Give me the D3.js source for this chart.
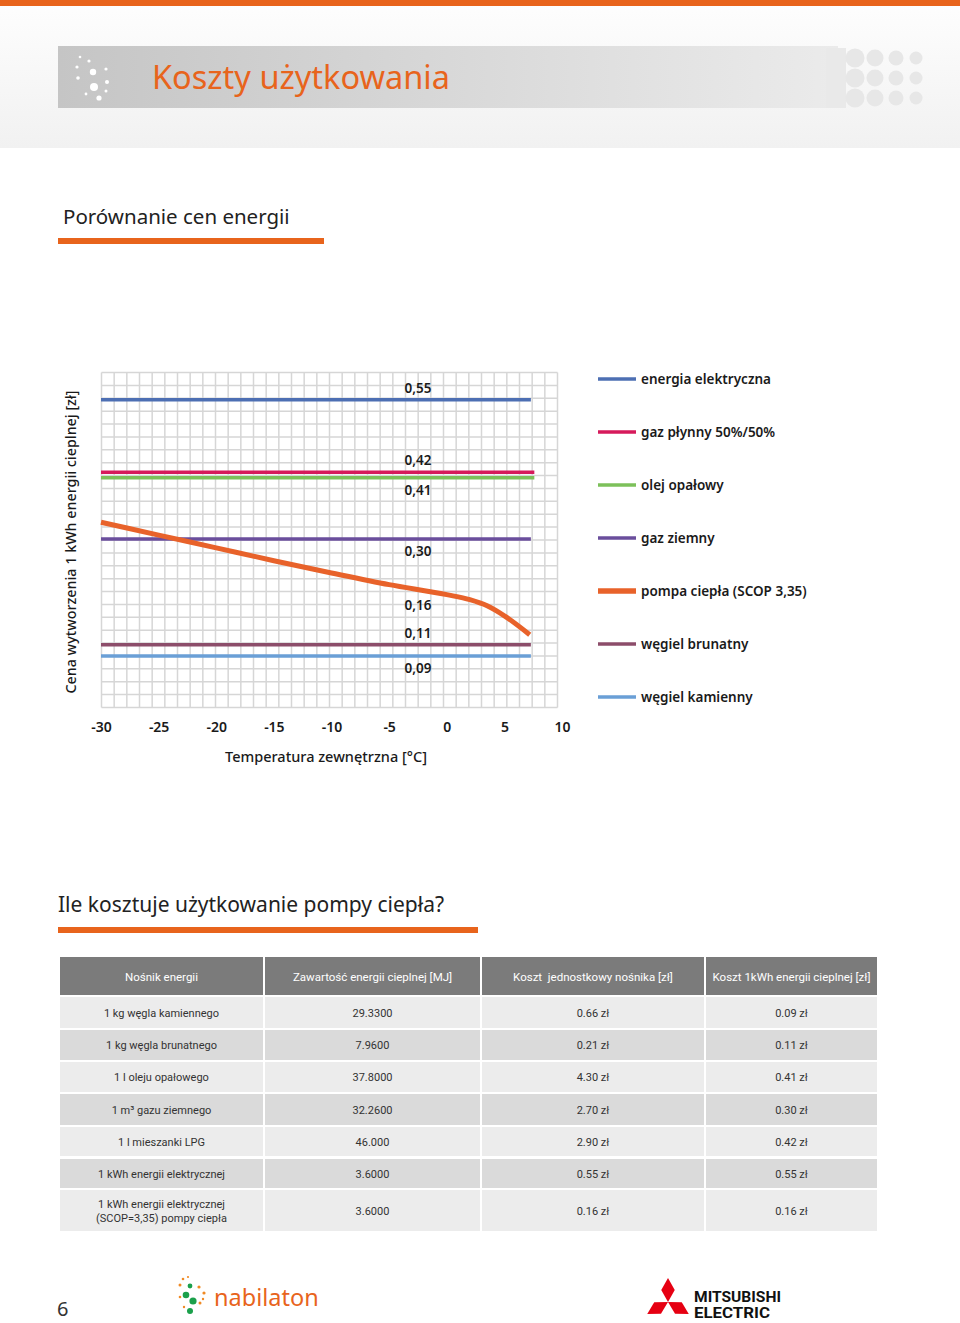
<!DOCTYPE html>
<html><head><meta charset="utf-8">
<script src="https://cdn.jsdelivr.net/npm/d3@7"></script>
<style>
body{margin:0;background:#fff;}
svg{display:block;}
</style></head><body>
<svg id="page" width="960" height="1323"></svg>
<script>
// ---------- DATA ----------
const seriesNames = ["energia elektryczna","gaz płynny 50%/50%","olej opałowy","gaz ziemny","pompa ciepła (SCOP 3,35)","węgiel brunatny","węgiel kamienny"];
const seriesColors = ["#4d6fb3","#d61a5b","#7cc05a","#6a4e9c","#e8622a","#8c4d6a","#6a9fd6"];
const flatValues = [0.55,0.42,0.41,0.30,null,0.11,0.09];
const flatEnd = [7.3,7.6,7.6,7.3,null,7.3,7.3];
const heatPumpTemps = [-30,-25,-20,-15,-10,-5,0,2,3.5,5,7.2];
const heatPumpValues = [0.330,0.307,0.284,0.261,0.239,0.218,0.200,0.191,0.180,0.162,0.128];
const xTicks = [-30,-25,-20,-15,-10,-5,0,5,10];
const valueLabels = ["0,55","0,42","0,41","0,30","0,16","0,11","0,09"];
const valueLabelAt = [0.55,0.42,0.41,0.30,0.16,0.11,0.09];
const valueLabelSide = [-1,-1,1,1,-1,-1,1];

const tableHeader = ["Nośnik energii","Zawartość energii cieplnej [MJ]","Koszt  jednostkowy nośnika [zł]","Koszt 1kWh energii cieplnej [zł]"];
const carriers = ["1 kg węgla kamiennego","1 kg węgla brunatnego","1 l oleju opałowego","1 m³ gazu ziemnego","1 l mieszanki LPG","1 kWh energii elektrycznej","1 kWh energii elektrycznej|(SCOP=3,35) pompy ciepła"];
const energyMJ = ["29.3300","7.9600","37.8000","32.2600","46.000","3.6000","3.6000"];
const unitCost = ["0.66 zł","0.21 zł","4.30 zł","2.70 zł","2.90 zł","0.55 zł","0.16 zł"];
const kwhCost = ["0.09 zł","0.11 zł","0.41 zł","0.30 zł","0.42 zł","0.55 zł","0.16 zł"];

// ---------- PAGE ----------
const svg = d3.select("#page");
const defs = svg.append("defs");
const FONT = "'Noto Sans', 'Open Sans', sans-serif";
const NARROW = "'Liberation Sans Narrow', 'Roboto', sans-serif";

const hg = defs.append("linearGradient").attr("id","hdrbg").attr("x1",0).attr("y1",0).attr("x2",0).attr("y2",1);
hg.append("stop").attr("offset","0%").attr("stop-color","#fefefe");
hg.append("stop").attr("offset","100%").attr("stop-color","#f1f1f1");
const bg = defs.append("linearGradient").attr("id","banner").attr("x1",0).attr("y1",0).attr("x2",1).attr("y2",0);
bg.append("stop").attr("offset","0%").attr("stop-color","#c5c5c5");
bg.append("stop").attr("offset","100%").attr("stop-color","#ebebeb");

svg.append("rect").attr("x",0).attr("y",0).attr("width",960).attr("height",148).attr("fill","url(#hdrbg)");
svg.append("rect").attr("x",0).attr("y",0).attr("width",960).attr("height",6).attr("fill","#e8641c");
svg.append("rect").attr("x",58).attr("y",46).attr("width",780).attr("height",62).attr("fill","url(#banner)");

// right circles decoration
const circCols = [855,875,896,916];
const circR = [9.5,8.5,7.5,6.5];
const circRows = [58,78,98];
svg.append("rect").attr("x",826).attr("y",48).attr("width",20).attr("height",60).attr("fill","#e9e9e9");
circRows.forEach(cy=>circCols.forEach((cx,i)=>{
  svg.append("circle").attr("cx",cx).attr("cy",cy).attr("r",circR[i]).attr("fill","#e7e7e7");
}));
// left dots decoration
const leftDots = [[80,57,1.3],[89,61,1.6],[77,67,1.6],[93,72,3.2],[106,69,1.6],[78,78,1.8],[94,87,4],[107,82,2],[99,98,2.6],[106,91,1.5],[86,94,1.4]];
leftDots.forEach(d=>svg.append("circle").attr("cx",d[0]).attr("cy",d[1]).attr("r",d[2]).attr("fill","#fff"));

svg.append("text").attr("x",152).attr("y",89).attr("font-family",FONT).attr("font-size",32.5)
  .attr("fill","#e8641c").text("Koszty użytkowania");

// section title 1
svg.append("text").attr("x",63).attr("y",224).attr("font-family",FONT).attr("font-size",20.5)
  .attr("fill","#222").text("Porównanie cen energii");
svg.append("rect").attr("x",58).attr("y",238).attr("width",266).attr("height",6).attr("fill","#e8641c");

// ---------- CHART ----------
const x = d3.scaleLinear().domain([-30,10]).range([101,562]);
const y = d3.scaleLinear().domain([0,0.6]).range([706,372]);

// grid
const gx = d3.scaleLinear().domain([0,36]).range([101.5,557.5]);
const gy = d3.scaleLinear().domain([0,26]).range([372.5,707.5]);
const grid = svg.append("g").attr("stroke","#d6d6d6").attr("stroke-width",1.5);
grid.selectAll("line.v").data(d3.range(37)).join("line").attr("class","v")
  .attr("x1",d=>gx(d)).attr("x2",d=>gx(d)).attr("y1",gy(0)).attr("y2",gy(26));
grid.selectAll("line.h").data(d3.range(27)).join("line").attr("class","h")
  .attr("y1",d=>gy(d)).attr("y2",d=>gy(d)).attr("x1",gx(0)).attr("x2",gx(36));

// flat series
const flat = seriesNames.map((n,i)=>({v:flatValues[i],end:flatEnd[i],c:seriesColors[i]})).filter(d=>d.v!==null);
svg.append("g").selectAll("line").data(flat).join("line")
  .attr("x1",x(-30)).attr("x2",d=>x(d.end))
  .attr("y1",d=>y(d.v)).attr("y2",d=>y(d.v))
  .attr("stroke",d=>d.c).attr("stroke-width",3.5);

// heat pump curve
const hp = heatPumpTemps.map((t,i)=>[t,heatPumpValues[i]]);
svg.append("path").datum(hp)
  .attr("d",d3.line().x(d=>x(d[0])).y(d=>y(d[1])).curve(d3.curveMonotoneX))
  .attr("fill","none").attr("stroke",seriesColors[4]).attr("stroke-width",5).attr("stroke-linecap","butt");

// value labels
svg.append("g").selectAll("text").data(valueLabels).join("text")
  .attr("x",418).attr("y",(d,i)=>y(valueLabelAt[i]) + valueLabelSide[i]*12 + 5)
  .attr("text-anchor","middle").attr("font-family",FONT).attr("font-size",13.5).attr("font-weight",600)
  .attr("fill","#1a1a1a").text(d=>d);

// x axis
const xAxis = d3.axisBottom(x).tickValues(xTicks).tickSize(0).tickPadding(0).tickFormat(d=>String(d));
const ax = svg.append("g").attr("transform","translate(0,722)").call(xAxis);
ax.select(".domain").remove();
ax.selectAll("text").attr("font-family",FONT).attr("font-size",14).attr("font-weight",600).attr("fill","#1a1a1a");

svg.append("text").attr("x",326).attr("y",762).attr("text-anchor","middle").attr("font-family",FONT)
  .attr("font-size",14.5).attr("font-weight",500).attr("fill","#1a1a1a").text("Temperatura zewnętrzna [°C]");
svg.append("text").attr("transform","translate(76,542) rotate(-90)").attr("text-anchor","middle")
  .attr("font-family",FONT).attr("font-size",14.3).attr("font-weight",500).attr("fill","#1a1a1a")
  .text("Cena wytworzenia 1 kWh energii cieplnej [zł]");

// legend
const legY = d3.scalePoint().domain(seriesNames).range([379,697]);
const leg = svg.append("g").selectAll("g").data(seriesNames).join("g")
  .attr("transform",d=>`translate(598,${legY(d)})`);
leg.append("line").attr("x1",0).attr("x2",38).attr("y1",0).attr("y2",0)
  .attr("stroke",(d,i)=>seriesColors[i]).attr("stroke-width",(d,i)=>i===4?5.5:3.5);
leg.append("text").attr("x",43).attr("y",5).attr("font-family",FONT).attr("font-size",13.5)
  .attr("font-weight",600).attr("fill","#1a1a1a").text(d=>d);

// ---------- TABLE ----------
svg.append("text").attr("x",58).attr("y",912).attr("font-family",FONT).attr("font-size",21)
  .attr("fill","#222").text("Ile kosztuje użytkowanie pompy ciepła?");
svg.append("rect").attr("x",58).attr("y",927).attr("width",420).attr("height",6).attr("fill","#e8641c");

const colX = [60,265,482,706];
const colW = [203,215,222,171];
const rowTop = [997,1030,1062,1094,1127,1159,1190];
const rowH = [31,30,30,31,29,29,41];

tableHeader.forEach((h,j)=>{
  svg.append("rect").attr("x",colX[j]).attr("y",957).attr("width",colW[j]).attr("height",38).attr("fill","#7b7b7b");
  svg.append("text").attr("x",colX[j]+colW[j]/2).attr("y",981).attr("text-anchor","middle")
    .attr("font-family",NARROW).attr("font-size",11.5).attr("fill","#fff").attr("xml:space","preserve").text(h);
});
const tableCols = [carriers,energyMJ,unitCost,kwhCost];
carriers.forEach((c,i)=>{
  tableCols.forEach((col,j)=>{
    svg.append("rect").attr("x",colX[j]).attr("y",rowTop[i]).attr("width",colW[j]).attr("height",rowH[i])
      .attr("fill", i%2===0 ? "#ececec" : "#dadada");
    const lines = col[i].split("|");
    const cy = rowTop[i]+rowH[i]/2;
    lines.forEach((ln,k)=>{
      svg.append("text").attr("x",colX[j]+colW[j]/2).attr("y",cy+4+(k-(lines.length-1)/2)*14)
        .attr("text-anchor","middle").attr("font-family",NARROW).attr("font-size",11).attr("fill","#333").text(ln);
    });
  });
});

// ---------- FOOTER ----------
svg.append("text").attr("x",57).attr("y",1316).attr("font-family",FONT).attr("font-size",20).attr("fill","#333").text("6");
// nabilaton logo
const orangeDots = [[183,1279,1.3],[188,1277,1.1],[180,1285,1.5],[199,1287,1.6],[204,1293,1.6],[200,1303,1.5],[180,1297,1.3],[184,1307,1.2],[203,1299,1.2]];
const greenDots = [[190,1286,2.4],[186,1295,3.3],[193,1301,3.6],[190,1311,3]];
orangeDots.forEach(d=>svg.append("circle").attr("cx",d[0]).attr("cy",d[1]).attr("r",d[2]).attr("fill","#f08a24"));
greenDots.forEach(d=>svg.append("circle").attr("cx",d[0]).attr("cy",d[1]).attr("r",d[2]).attr("fill","#1ba04b"));
svg.append("text").attr("x",214).attr("y",1306).attr("font-family",FONT).attr("font-size",23.5)
  .attr("fill","#e8641c").text("nabilaton");
// mitsubishi logo
const C = [668,1302], L = 24, W = 13.5;
[90,210,330].forEach(a=>{
  const r = a*Math.PI/180, d=[Math.cos(r),-Math.sin(r)], n=[-d[1],d[0]];
  const pts = [C,[C[0]+d[0]*L/2+n[0]*W/2, C[1]+d[1]*L/2+n[1]*W/2],[C[0]+d[0]*L,C[1]+d[1]*L],[C[0]+d[0]*L/2-n[0]*W/2, C[1]+d[1]*L/2-n[1]*W/2]];
  svg.append("path").attr("d","M"+pts.map(p=>p.join(",")).join("L")+"Z").attr("fill","#e60012");
});
svg.append("text").attr("x",694).attr("y",1302).attr("font-family",NARROW).attr("font-weight",700).attr("font-size",14)
  .attr("textLength",87).attr("lengthAdjust","spacingAndGlyphs").attr("fill","#111").text("MITSUBISHI");
svg.append("text").attr("x",694).attr("y",1318).attr("font-family",NARROW).attr("font-weight",700).attr("font-size",14)
  .attr("textLength",76).attr("lengthAdjust","spacingAndGlyphs").attr("fill","#111").text("ELECTRIC");
</script>
</body></html>
